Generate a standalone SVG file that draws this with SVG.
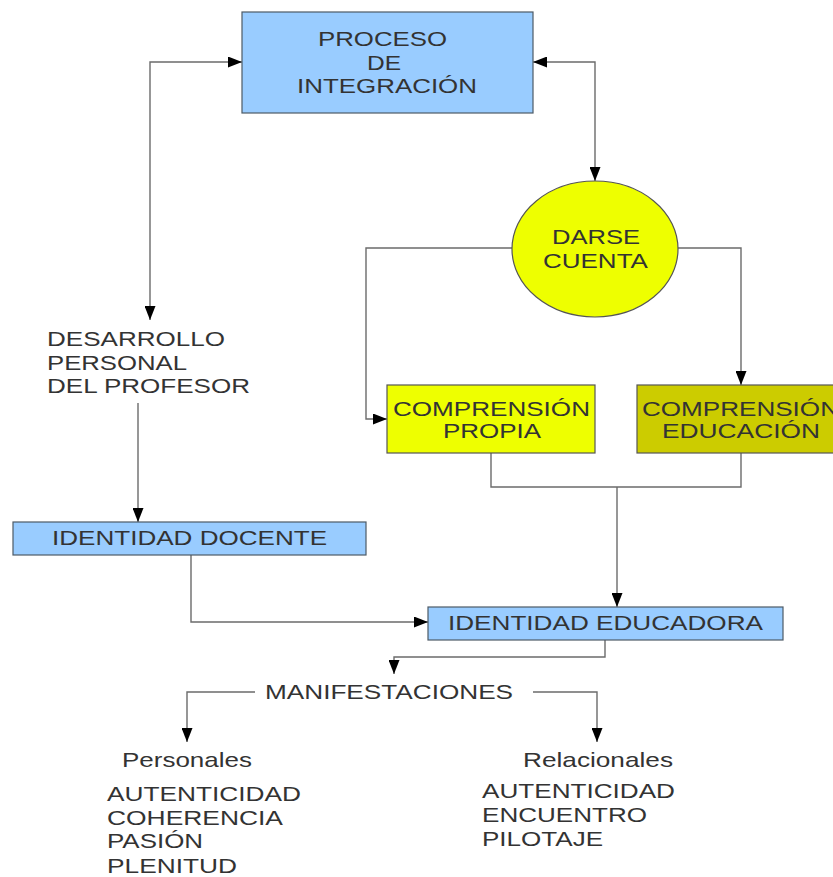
<svg xmlns="http://www.w3.org/2000/svg" width="833" height="877" viewBox="0 0 833 877">
<defs>
<style>
text{font-family:"Liberation Sans",Arial,sans-serif;font-size:19.8px;fill:#333;}
.blue{fill:#99ccff;stroke:#4d5a66;stroke-width:1.2;}
.yel{fill:#eeff00;stroke:#555;stroke-width:1.2;}
.olive{fill:#cccc00;stroke:#555;stroke-width:1.2;}
.con{fill:none;stroke:#6b6b6b;stroke-width:1.4;}
</style>
<marker id="ah" viewBox="0 0 14 11" refX="14" refY="5.5" markerWidth="14" markerHeight="11" markerUnits="userSpaceOnUse" orient="auto-start-reverse">
<path d="M0,0 L14,5.5 L0,11 Z" fill="#000"/>
</marker>
</defs>
<rect width="833" height="877" fill="#fff"/>

<g id="connectors">
<path class="con" d="M242,62 H150 V320" marker-start="url(#ah)" marker-end="url(#ah)"/>
<path class="con" d="M533,62 H595 V181" marker-start="url(#ah)" marker-end="url(#ah)"/>
<path class="con" d="M512,248 H366 V419 H387" marker-end="url(#ah)"/>
<path class="con" d="M678,248 H741 V385" marker-end="url(#ah)"/>
<path class="con" d="M491,453 V487 H741 V453"/>
<path class="con" d="M617,487 V607" marker-end="url(#ah)"/>
<path class="con" d="M138,403 V522" marker-end="url(#ah)"/>
<path class="con" d="M191,555 V622 H428" marker-end="url(#ah)"/>
<path class="con" d="M605,640 V657 H394 V674" marker-end="url(#ah)"/>
<path class="con" d="M255,692 H187 V742" marker-end="url(#ah)"/>
<path class="con" d="M533,692 H597 V742" marker-end="url(#ah)"/>
</g>

<g id="proceso">
<rect class="blue" x="242" y="12" width="291" height="101"/>
<text transform="translate(318,46) scale(1.33,1)" textLength="97" lengthAdjust="spacingAndGlyphs">PROCESO</text>
<text transform="translate(367,70) scale(1.33,1)" textLength="25.6" lengthAdjust="spacingAndGlyphs">DE</text>
<text transform="translate(297,93) scale(1.33,1)" textLength="135.3" lengthAdjust="spacingAndGlyphs">INTEGRACIÓN</text>
</g>

<g id="darse">
<ellipse class="yel" cx="595" cy="249" rx="83" ry="68"/>
<text transform="translate(552,244) scale(1.33,1)" textLength="66.2" lengthAdjust="spacingAndGlyphs">DARSE</text>
<text transform="translate(543,268) scale(1.33,1)" textLength="78.9" lengthAdjust="spacingAndGlyphs">CUENTA</text>
</g>

<g id="comp-propia">
<rect class="yel" x="387" y="385" width="208" height="68"/>
<text transform="translate(393,416) scale(1.33,1)" textLength="148.1" lengthAdjust="spacingAndGlyphs">COMPRENSIÓN</text>
<text transform="translate(443,438) scale(1.33,1)" textLength="73.7" lengthAdjust="spacingAndGlyphs">PROPIA</text>
</g>

<g id="comp-educacion">
<rect class="olive" x="637" y="385" width="208" height="68"/>
<text transform="translate(642,416) scale(1.33,1)" textLength="148.1" lengthAdjust="spacingAndGlyphs">COMPRENSIÓN</text>
<text transform="translate(662,438) scale(1.33,1)" textLength="118.8" lengthAdjust="spacingAndGlyphs">EDUCACIÓN</text>
</g>

<g id="desarrollo">
<text transform="translate(47,346) scale(1.33,1)" textLength="133.8" lengthAdjust="spacingAndGlyphs">DESARROLLO</text>
<text transform="translate(47,370) scale(1.33,1)" textLength="105.3" lengthAdjust="spacingAndGlyphs">PERSONAL</text>
<text transform="translate(47,393) scale(1.33,1)" textLength="152.6" lengthAdjust="spacingAndGlyphs">DEL PROFESOR</text>
</g>

<g id="identidad-docente">
<rect class="blue" x="13" y="522" width="353" height="33"/>
<text transform="translate(52,545) scale(1.33,1)" textLength="206.8" lengthAdjust="spacingAndGlyphs">IDENTIDAD DOCENTE</text>
</g>

<g id="identidad-educadora">
<rect class="blue" x="428" y="607" width="355" height="33"/>
<text transform="translate(448,630) scale(1.33,1)" textLength="236.8" lengthAdjust="spacingAndGlyphs">IDENTIDAD EDUCADORA</text>
</g>

<g id="manifestaciones">
<text transform="translate(265,699) scale(1.33,1)" textLength="186.5" lengthAdjust="spacingAndGlyphs">MANIFESTACIONES</text>
</g>

<g id="personales">
<text transform="translate(122,767) scale(1.33,1)" textLength="97.7" lengthAdjust="spacingAndGlyphs">Personales</text>
<text transform="translate(107,801) scale(1.33,1)" textLength="145.9" lengthAdjust="spacingAndGlyphs">AUTENTICIDAD</text>
<text transform="translate(107,825) scale(1.33,1)" textLength="132.3" lengthAdjust="spacingAndGlyphs">COHERENCIA</text>
<text transform="translate(107,848) scale(1.33,1)" textLength="72.2" lengthAdjust="spacingAndGlyphs">PASIÓN</text>
<text transform="translate(107,873) scale(1.33,1)" textLength="97.7" lengthAdjust="spacingAndGlyphs">PLENITUD</text>
</g>

<g id="relacionales">
<text transform="translate(523,767) scale(1.33,1)" textLength="112.8" lengthAdjust="spacingAndGlyphs">Relacionales</text>
<text transform="translate(482,798) scale(1.33,1)" textLength="145.1" lengthAdjust="spacingAndGlyphs">AUTENTICIDAD</text>
<text transform="translate(482,822) scale(1.33,1)" textLength="124.1" lengthAdjust="spacingAndGlyphs">ENCUENTRO</text>
<text transform="translate(482,846) scale(1.33,1)" textLength="91" lengthAdjust="spacingAndGlyphs">PILOTAJE</text>
</g>
</svg>
